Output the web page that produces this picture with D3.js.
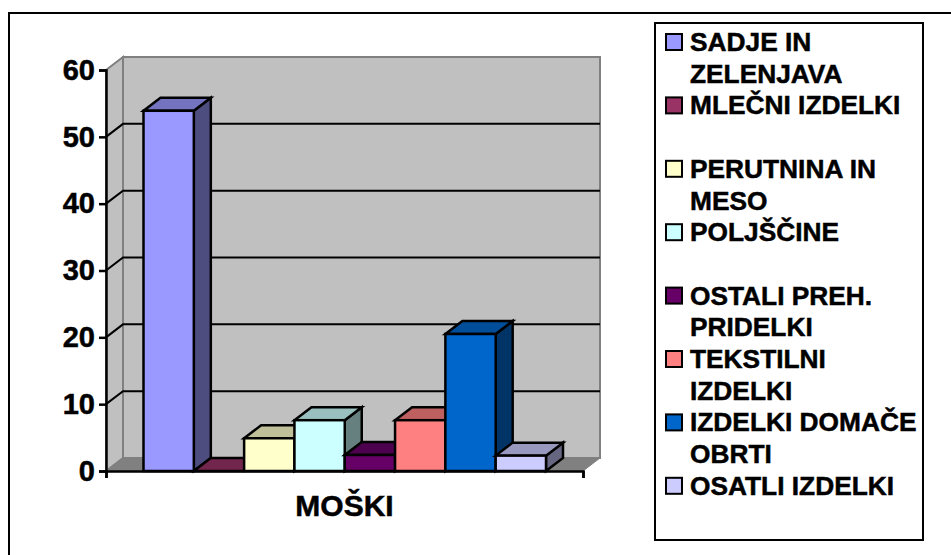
<!DOCTYPE html>
<html lang="en">
  <head>
    <meta charset="utf-8">
    <title>MOŠKI</title>
    <script src="https://d3js.org/d3.v7.min.js"></script>
    <style>
      html, body { margin: 0; padding: 0; background: #fff; }
      svg { display: block; }
      text { font-family: "Liberation Sans", Arial, sans-serif; font-weight: bold; fill: #000; stroke: #000; stroke-width: 0.5px; }
    </style>
  </head>
  <body>
    <svg id="plotarea" width="951" height="555"></svg>
    <script>
      // Data
      var categories = ["SADJE IN ZELENJAVA", "MLEČNI IZDELKI", "PERUTNINA IN MESO", "POLJŠČINE",
                        "OSTALI PREH. PRIDELKI", "TEKSTILNI IZDELKI", "IZDELKI DOMAČE OBRTI", "OSATLI IZDELKI"];
      var values = [53.9, 0, 4.9, 7.6, 2.4, 7.6, 20.5, 2.3];
      var yTicks = [0, 10, 20, 30, 40, 50, 60];
      var groupLabel = "MOŠKI";
      var colors = ["#9999FF", "#993366", "#FFFFCC", "#CCFFFF", "#660066", "#FF8080", "#0066CC", "#CCCCFF"];
      var legendLines = [["SADJE IN", "ZELENJAVA"], ["MLEČNI IZDELKI"], ["PERUTNINA IN", "MESO"], ["POLJŠČINE"],
                         ["OSTALI PREH.", "PRIDELKI"], ["TEKSTILNI", "IZDELKI"], ["IZDELKI DOMAČE", "OBRTI"], ["OSATLI IZDELKI"]];
      var legendRows = [0, 2, 4, 6, 8, 10, 12, 14];

      var svg = d3.select("#plotarea");
      var dx = 17, dy = -13;   // depth of the 3d box

      var y = d3.scaleLinear().domain([0, 60]).range([471, 70]);
      var xAxis = d3.scaleLinear().domain([0, 1]).range([106, 583]);
      var x = d3.scaleBand().domain(categories).range([143.5, 546]);

      // outer frame, only top and left are inside the picture
      svg.append("path").attr("d", "M9,555V13H951")
        .attr("fill", "none").attr("stroke", "#000").attr("stroke-width", 2);

      // walls and floor
      var x0 = xAxis(0), x1 = xAxis(1);
      svg.append("path")
        .attr("d", "M" + [x0, y(60)] + "L" + [x0 + dx, y(60) + dy] + "L" + [x0 + dx, y(0) + dy] + "L" + [x0, y(0)] + "Z")
        .attr("fill", "#C0C0C0").attr("stroke", "#808080").attr("stroke-width", 2);
      svg.append("rect").attr("x", x0 + dx).attr("y", y(60) + dy)
        .attr("width", x1 - x0).attr("height", y(0) - y(60))
        .attr("fill", "#C0C0C0").attr("stroke", "#808080").attr("stroke-width", 2);
      svg.append("path")
        .attr("d", "M" + [x0, y(0)] + "L" + [x0 + dx, y(0) + dy] + "L" + [x1 + dx, y(0) + dy] + "L" + [x1, y(0)] + "Z")
        .attr("fill", "#808080").attr("stroke", "#808080");

      // gridlines: side wall then back wall
      var gridTicks = yTicks.filter(function(d) { return d > 0 && d < 60; });
      var grid = svg.append("g").attr("stroke", "#000").attr("stroke-width", 2).attr("fill", "none");
      grid.selectAll("path").data(gridTicks).enter().append("path")
        .attr("d", function(d) {
          return "M" + [x0, y(d)] + "L" + [x0 + dx, y(d) + dy] + "L" + [x1 + dx, y(d) + dy];
        });

      // bars, left to right
      var bars = svg.append("g").attr("stroke", "#000").attr("stroke-width", 2.5).attr("stroke-linejoin", "miter");
      categories.forEach(function(c, i) {
        var left = x(c), right = left + x.bandwidth();
        var top = y(values[i]), base = y(0);
        var col = d3.color(colors[i]);
        var side = d3.rgb(col.r * 0.5, col.g * 0.5, col.b * 0.5);
        var lid = d3.rgb(col.r * 0.75, col.g * 0.75, col.b * 0.75);
        bars.append("path").attr("fill", side)
          .attr("d", "M" + [right, base] + "L" + [right + dx, base + dy] + "L" + [right + dx, top + dy] + "L" + [right, top] + "Z");
        bars.append("path").attr("fill", lid)
          .attr("d", "M" + [left, top] + "L" + [left + dx, top + dy] + "L" + [right + dx, top + dy] + "L" + [right, top] + "Z");
        if (values[i] > 0) {
          bars.append("rect").attr("fill", col).attr("x", left).attr("y", top)
            .attr("width", right - left).attr("height", base - top);
        }
      });

      // axes
      var yAxis = d3.axisLeft(y).tickValues(yTicks).tickSize(7).tickPadding(4);
      var gy = svg.append("g").attr("transform", "translate(" + x0 + ",0)").call(yAxis);
      gy.selectAll("path, line").attr("stroke", "#000").attr("stroke-width", 2.5);
      gy.selectAll("text").attr("font-size", 29).attr("fill", "#000")
        .style("font-family", '"Liberation Sans", Arial, sans-serif').style("font-weight", "bold");

      var bottom = d3.axisBottom(xAxis).tickValues([0, 1]).tickSize(7).tickFormat("");
      var gx = svg.append("g").attr("transform", "translate(0," + y(0) + ")").call(bottom);
      gx.selectAll("path, line").attr("stroke", "#000").attr("stroke-width", 2.5);

      svg.append("text").attr("x", 344.5).attr("y", 515.5).attr("text-anchor", "middle")
        .attr("font-size", 30).text(groupLabel);

      // legend
      svg.append("rect").attr("x", 655).attr("y", 23).attr("width", 268).attr("height", 517)
        .attr("fill", "#fff").attr("stroke", "#000").attr("stroke-width", 2);
      var rowH = 31.7;
      legendLines.forEach(function(lines, i) {
        var rowY = 51 + legendRows[i] * rowH;
        svg.append("rect").attr("x", 666).attr("y", rowY - 17).attr("width", 16).attr("height", 16)
          .attr("fill", colors[i]).attr("stroke", "#000").attr("stroke-width", 2);
        lines.forEach(function(t, j) {
          svg.append("text").attr("x", 690).attr("y", rowY + j * rowH).attr("font-size", 26.3).text(t);
        });
      });
    </script>
  </body>
</html>
